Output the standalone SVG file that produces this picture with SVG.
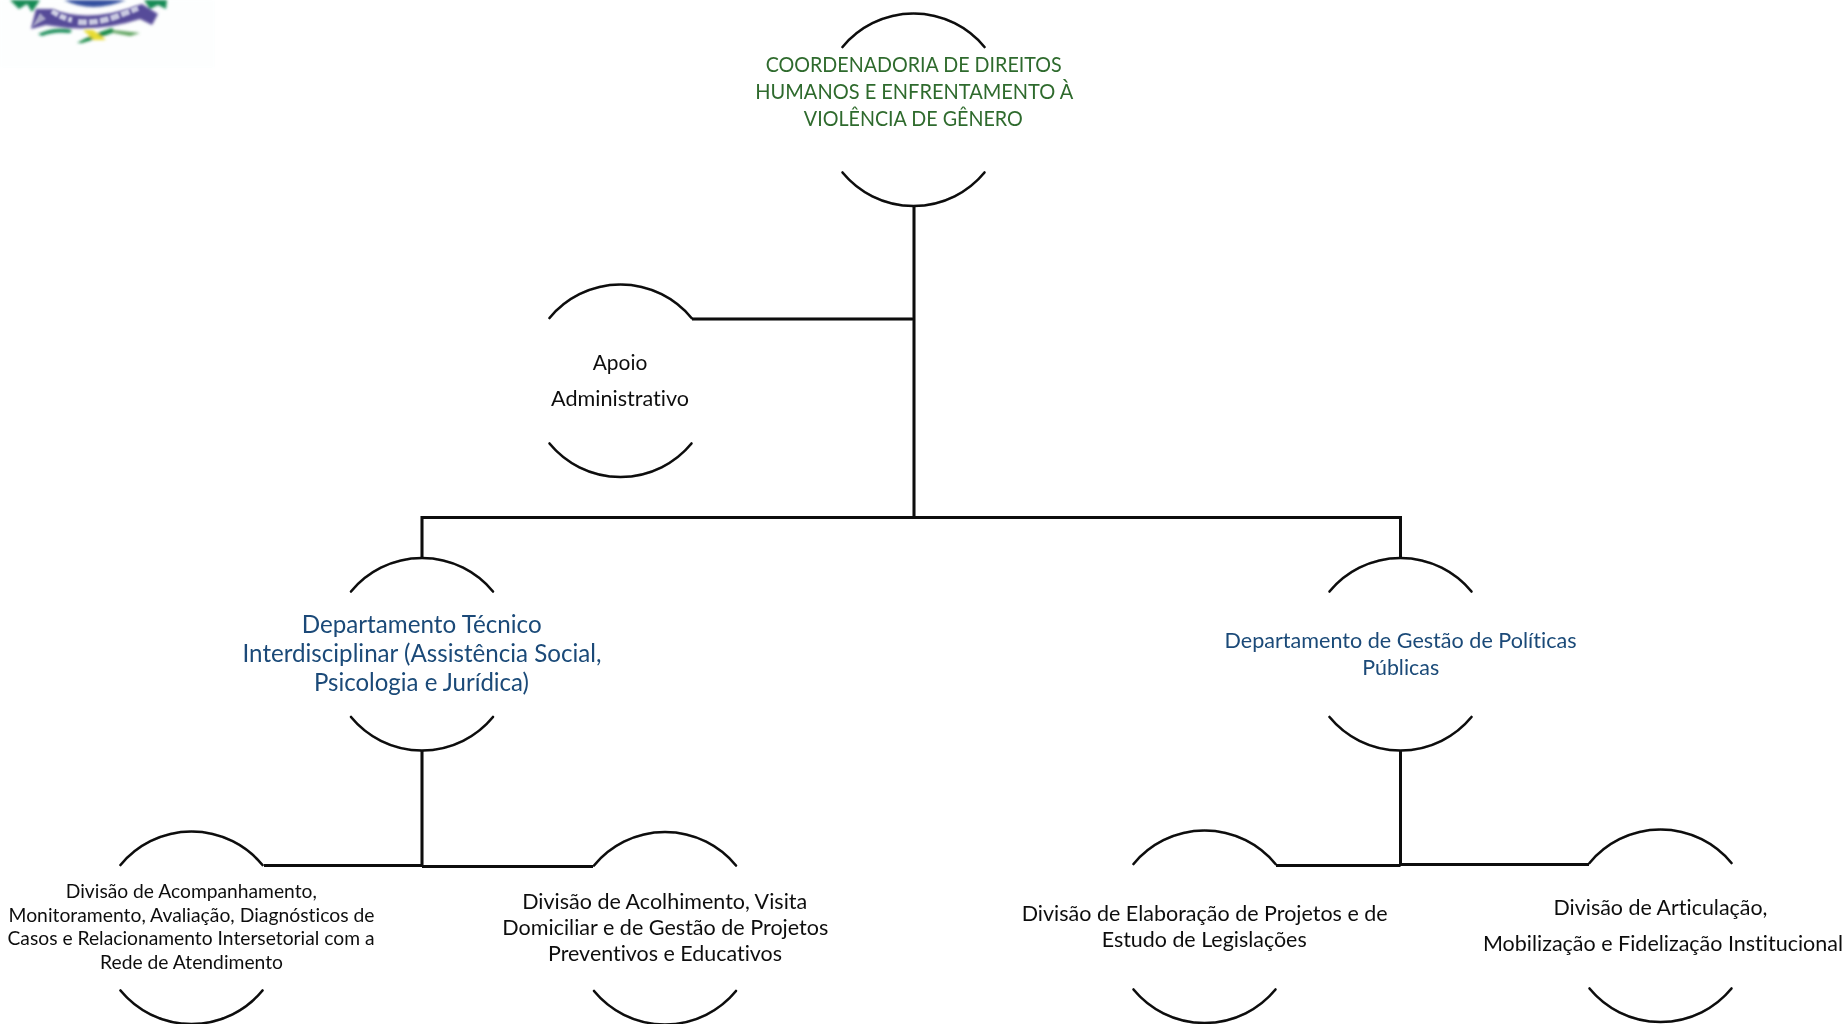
<svg xmlns="http://www.w3.org/2000/svg" width="1848" height="1024" viewBox="0 0 1848 1024">
<style>
text{font-family:"Lato","Carlito","Open Sans",sans-serif;text-anchor:middle;font-variant-ligatures:none}
.arc{fill:none;stroke:#0a0a0a;stroke-width:2.6;stroke-linecap:round}
.line{fill:none;stroke:#0a0a0a;stroke-width:3}
.green{fill:#2f6b2d;font-size:21.5px}
.blue{fill:#1a4a78}
.black{fill:#111}
.crisp{filter:url(#fine)}
</style>
<defs>
<filter id="fine" x="-5%" y="-5%" width="110%" height="110%"><feGaussianBlur stdDeviation="0.35"/></filter>
<filter id="soft" x="-20%" y="-20%" width="140%" height="140%"><feGaussianBlur stdDeviation="1.5"/></filter>
<filter id="softer" x="-20%" y="-20%" width="140%" height="140%"><feGaussianBlur stdDeviation="1"/></filter>
<path id="arcs" d="M-71 33A92 92 0 0 1 71 33M-71 158.500A92 92 0 0 0 71 158.500"/>
</defs>
<rect width="1848" height="1024" fill="#fff"/>
<g id="logo">
<rect x="0" y="0" width="215" height="68" fill="#fdfefe" filter="url(#soft)"/>
<g filter="url(#soft)">
<path d="M10 0L19 9L27 4L32 12L40 0Z" fill="#148a55"/>
<path d="M144 0L150 9L158 5L166 9L167 0Z" fill="#148a55"/>
<path d="M64 0Q92 14 126 0Z" fill="#33509f"/>
<path d="M36 9L52 9Q90 24 142 4L158 14L152 25L140 19Q95 34 46 25L31 29Z" fill="#574c99"/>
<path d="M38 34Q55 26 72 30L70 33Q54 31 42 36Z" fill="#148a55"/>
<path d="M77 43Q92 34 112 28L115 32Q96 39 82 43Z" fill="#148a45"/>
<path d="M112 30L140 33L130 36L114 33Z" fill="#5aa05a"/>
<path d="M83 30L93 30L106 40L94 40Z" fill="#e8dc30"/>
</g>
<g filter="url(#softer)">
<path d="M32 27L40 13L46 19Z" fill="#aaa8c8"/>
<path d="M52 11Q62 18 72 20" fill="none" stroke="#cfcfe4" stroke-width="5.500" stroke-dasharray="7 2"/>
<path d="M78 22Q98 24 120 15L138 8" fill="none" stroke="#c8c8e0" stroke-width="6" stroke-dasharray="9 2"/>
</g>
</g>
<g id="connectors" class="crisp">
<path class="line" d="M914 206V517.5M692 319H914M422 519V517.5H1400.5V558M422 517.5V558M422 751V866M264 865.5H422M422 866.5H593M1400.5 751V865M1276 865.5H1400.5M1400.5 864.5H1589"/>
</g>
<g id="node-coordenadoria" class="crisp">
<use href="#arcs" class="arc" x="913.5" y="14"/>
<text class="green" x="913.7" y="72" textLength="296" lengthAdjust="spacingAndGlyphs">COORDENADORIA DE DIREITOS</text>
<text class="green" x="914.3" y="99" textLength="318" lengthAdjust="spacingAndGlyphs">HUMANOS E ENFRENTAMENTO À</text>
<text class="green" x="913.3" y="125.500" textLength="219" lengthAdjust="spacingAndGlyphs">VIOLÊNCIA DE GÊNERO</text>
</g>
<g id="node-apoio" class="crisp">
<use href="#arcs" class="arc" x="620.5" y="285"/>
<text class="black" font-size="21.5" x="620" y="370" textLength="54.6" lengthAdjust="spacingAndGlyphs">Apoio</text>
<text class="black" font-size="21.5" x="620" y="406" textLength="138" lengthAdjust="spacingAndGlyphs">Administrativo</text>
</g>
<g id="node-dept-tecnico" class="crisp">
<use href="#arcs" class="arc" x="422" y="558.500"/>
<text class="blue" font-size="24.5" x="421.7" y="633" textLength="240" lengthAdjust="spacingAndGlyphs">Departamento Técnico</text>
<text class="blue" font-size="24.5" x="422" y="662" textLength="359" lengthAdjust="spacingAndGlyphs">Interdisciplinar (Assistência Social,</text>
<text class="blue" font-size="24.5" x="421.5" y="691" textLength="215" lengthAdjust="spacingAndGlyphs">Psicologia e Jurídica)</text>
</g>
<g id="node-dept-gestao" class="crisp">
<use href="#arcs" class="arc" x="1400.5" y="558.500"/>
<text class="blue" font-size="22" x="1400.5" y="647.5" textLength="352" lengthAdjust="spacingAndGlyphs">Departamento de Gestão de Políticas</text>
<text class="blue" font-size="22" x="1400.7" y="675" textLength="77" lengthAdjust="spacingAndGlyphs">Públicas</text>
</g>
<g id="node-div-acompanhamento" class="crisp">
<use href="#arcs" class="arc" x="191.5" y="832"/>
<text class="black" font-size="19" x="191.3" y="898" textLength="251" lengthAdjust="spacingAndGlyphs">Divisão de Acompanhamento,</text>
<text class="black" font-size="19" x="191.5" y="921.5" textLength="366" lengthAdjust="spacingAndGlyphs">Monitoramento, Avaliação, Diagnósticos de</text>
<text class="black" font-size="19" x="191" y="945" textLength="367" lengthAdjust="spacingAndGlyphs">Casos e Relacionamento Intersetorial com a</text>
<text class="black" font-size="19" x="191.500" y="968.5" textLength="183" lengthAdjust="spacingAndGlyphs">Rede de Atendimento</text>
</g>
<g id="node-div-acolhimento" class="crisp">
<use href="#arcs" class="arc" x="665" y="832.500"/>
<text class="black" font-size="21" x="664.7" y="909" textLength="285" lengthAdjust="spacingAndGlyphs">Divisão de Acolhimento, Visita</text>
<text class="black" font-size="21" x="665.3" y="935" textLength="326" lengthAdjust="spacingAndGlyphs">Domiciliar e de Gestão de Projetos</text>
<text class="black" font-size="21" x="665" y="961" textLength="234" lengthAdjust="spacingAndGlyphs">Preventivos e Educativos</text>
</g>
<g id="node-div-elaboracao" class="crisp">
<use href="#arcs" class="arc" x="1204.5" y="831"/>
<text class="black" font-size="21" x="1204.7" y="921" textLength="366" lengthAdjust="spacingAndGlyphs">Divisão de Elaboração de Projetos e de</text>
<text class="black" font-size="21" x="1204.2" y="947" textLength="205" lengthAdjust="spacingAndGlyphs">Estudo de Legislações</text>
</g>
<g id="node-div-articulacao" class="crisp">
<use href="#arcs" class="arc" x="1660.5" y="830"/>
<text class="black" font-size="21" x="1660.5" y="915" textLength="214" lengthAdjust="spacingAndGlyphs">Divisão de Articulação,</text>
<text class="black" font-size="21" x="1663" y="951" textLength="360" lengthAdjust="spacingAndGlyphs">Mobilização e Fidelização Institucional</text>
</g>
</svg>
